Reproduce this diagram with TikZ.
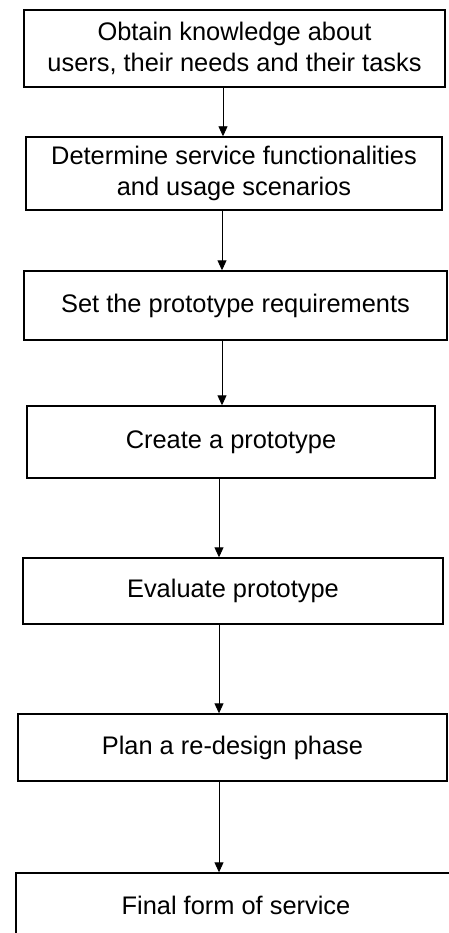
\documentclass[tikz,border=0pt]{standalone}
\usepackage{fontspec}
\setmainfont{Liberation Sans}
\usetikzlibrary{arrows.meta}
\begin{document}
\begin{tikzpicture}[x=1pt,y=-1pt,
  stepbox/.style={draw=black,line width=1.4pt,rectangle,inner sep=0pt,align=center,
    font=\fontsize{25.4pt}{31pt}\selectfont},
  arr/.style={draw=black,line width=0.9pt,-{Triangle[length=10pt,width=9pt]}}]
\useasboundingbox (0,0) rectangle (448,933);
\fill[white] (0,0) rectangle (448,933);
\node[stepbox,minimum width=421pt,minimum height=77pt] (b1) at (234.5,48.5) {Obtain knowledge about\\users, their needs and their tasks};
\node[stepbox,minimum width=416pt,minimum height=73pt] (b2) at (234,173.5) {Determine service functionalities\\and usage scenarios};
\node[stepbox,minimum width=423pt,minimum height=69pt] (b3) at (235.5,305.5) {Set the prototype requirements};
\node[stepbox,minimum width=408pt,minimum height=72pt] (b4) at (231,442) {Create a prototype};
\node[stepbox,minimum width=420pt,minimum height=66pt] (b5) at (233,591) {Evaluate prototype};
\node[stepbox,minimum width=429pt,minimum height=67pt] (b6) at (232.5,747.5) {Plan a re-design phase};
\node[stepbox,minimum width=440pt,minimum height=64pt] (b7) at (236,905) {Final form of service};
\coordinate (xa) at (223,0);
\coordinate (xb) at (222,0);
\coordinate (xc) at (219,0);
\draw[arr] (b1.south -| xa) -- (b2.north -| xa);
\draw[arr] (b2.south -| xb) -- (b3.north -| xb);
\draw[arr] (b3.south -| xb) -- (b4.north -| xb);
\draw[arr] (b4.south -| xc) -- (b5.north -| xc);
\draw[arr] (b5.south -| xc) -- (b6.north -| xc);
\draw[arr] (b6.south -| xc) -- (b7.north -| xc);
\end{tikzpicture}
\end{document}
